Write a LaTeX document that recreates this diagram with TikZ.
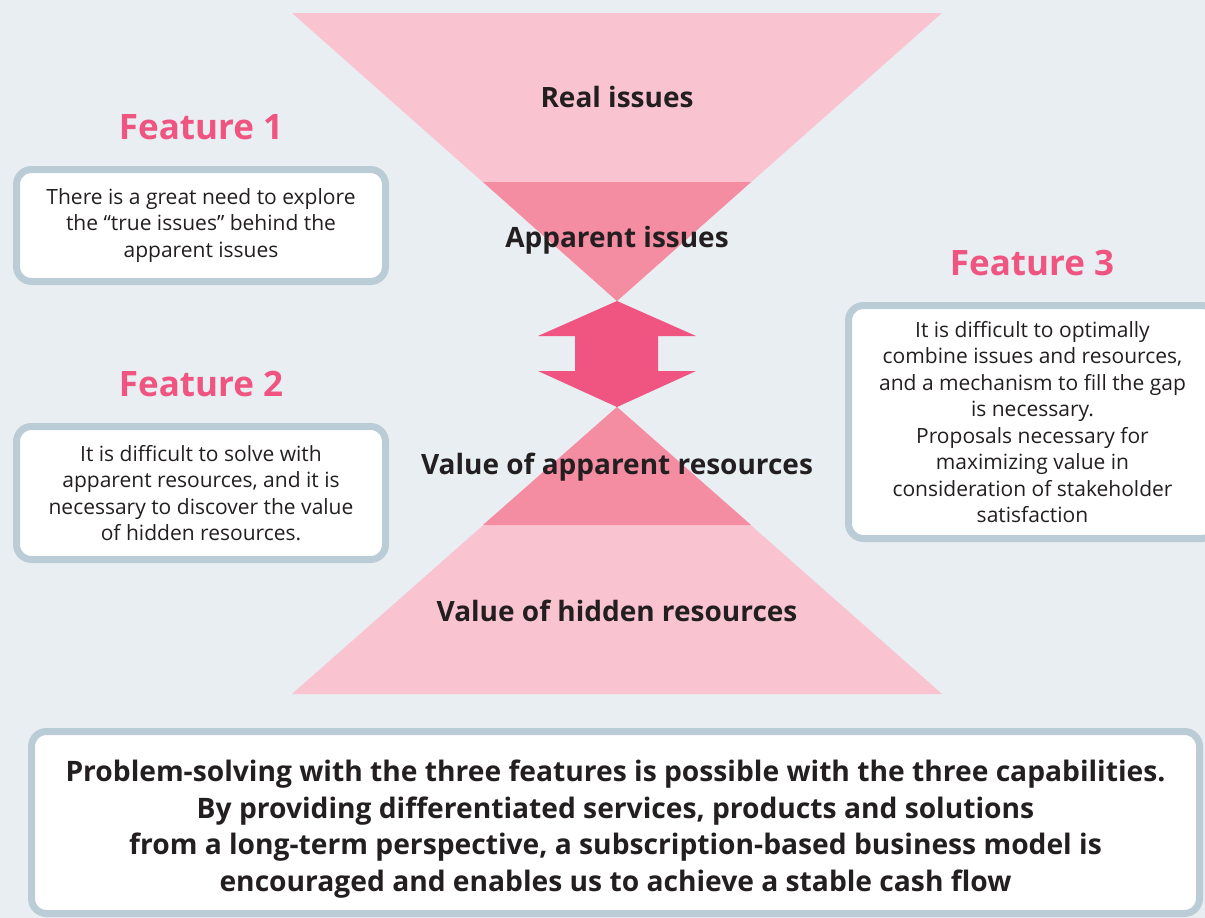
\documentclass[tikz,border=0pt]{standalone}
\usepackage{fontspec}
\setmainfont{Open Sans}
\usepackage{tikz}
\definecolor{bgblue}{HTML}{E8EEF2}
\definecolor{lightpink}{HTML}{F9C4D0}
\definecolor{midpink}{HTML}{F48CA2}
\definecolor{hotpink}{HTML}{EF5580}
\definecolor{boxgrey}{HTML}{BACCD5}
\definecolor{inkdark}{HTML}{231F20}

\begin{document}
\begin{tikzpicture}[x=1pt,y=-1pt,
    feature/.style={text=hotpink, font=\fontsize{35}{40}\selectfont\bfseries},
    panel/.style={draw=boxgrey, line width=7pt, fill=white, rounded corners=15pt,
        align=center, text=inkdark, font=\fontsize{21}{26.5}\selectfont},
    layer/.style={text=inkdark, font=\fontsize{28}{30}\selectfont\bfseries}
]
\useasboundingbox[fill=bgblue] (0,0) rectangle (1205,918);
\clip (0,0) rectangle (1205,918);

\fill[lightpink] (292,13) -- (942,13) -- (617,301) -- cycle;
\fill[midpink] (483,182) -- (751,182) -- (617,301) -- cycle;
\fill[lightpink] (617,407) -- (942,694) -- (292,694) -- cycle;
\fill[midpink] (617,407) -- (751,525) -- (483,525) -- cycle;
\fill[hotpink] (617,301) -- (696,336) -- (658,336) -- (658,371) -- (696,371)
    -- (617,407) -- (538,371) -- (575,371) -- (575,336) -- (538,336) -- cycle;

\node[layer] (real) at (617,97) {Real issues};
\node[layer] (apparent) at (617,240) {Apparent issues};
\node[layer] (appres) at (617,467) {Value of apparent resources};
\node[layer] (hidres) at (617,611) {Value of hidden resources};

\node[feature] (feat1) at (201,127) {Feature 1};
\node[panel, minimum width=369, minimum height=112] (box1) at (201,225.5) {
    There is a great need to explore\\
    the “true issues” behind the\\
    apparent issues};

\node[feature] (feat2) at (201,384) {Feature 2};
\node[panel, minimum width=369, minimum height=133] (box2) at (201,493) {
    It is difficult to solve with\\
    apparent resources, and it is\\
    necessary to discover the value\\
    of hidden resources.};

\node[feature] (feat3) at (1032,263) {Feature 3};
\node[panel, minimum width=368, minimum height=233] (box3) at (1032.5,422) {
    It is difficult to optimally\\
    combine issues and resources,\\
    and a mechanism to fill the gap\\
    is necessary.\\
    Proposals necessary for\\
    maximizing value in\\
    consideration of stakeholder\\
    satisfaction};

\node[panel, minimum width=1168, minimum height=182] (summary) at (615.5,822.5) {};
\node[align=center, text=inkdark, font=\fontsize{28.2}{36.5}\selectfont\bfseries]
    (summarytext) at (615.5,829) {
    Problem-solving with the three features is possible with the three capabilities.\\
    By providing differentiated services, products and solutions\\
    from a long-term perspective, a subscription-based business model is\\
    encouraged and enables us to achieve a stable cash flow};
\end{tikzpicture}
\end{document}
